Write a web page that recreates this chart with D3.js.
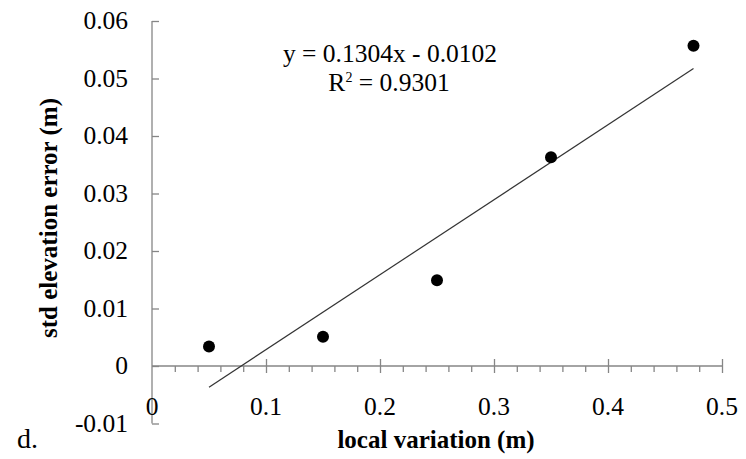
<!DOCTYPE html>
<html><head><meta charset="utf-8">
<script src="https://cdn.jsdelivr.net/npm/d3@7"></script>
<style>body{margin:0;background:#fff}svg{display:block}</style>
</head><body>
<script>
const xValues = [0.05, 0.15, 0.25, 0.35, 0.475];
const yValues = [0.0034, 0.0051, 0.0149, 0.0363, 0.0557];
const slope = 0.1304, intercept = -0.0102;
const equationLabel = "y = 0.1304x - 0.0102";
const r2Label = "0.9301";
const xTicks = [0, 0.1, 0.2, 0.3, 0.4, 0.5];
const yTicks = [-0.01, 0, 0.01, 0.02, 0.03, 0.04, 0.05, 0.06];
const xTitle = "local variation (m)";
const yTitle = "std elevation error (m)";
const panelLabel = "d.";

const FONT = "'Liberation Serif', 'DejaVu Serif', serif";
const W = 746, H = 459;
const svg = d3.select("body").append("svg").attr("width", W).attr("height", H)
  .attr("font-family", FONT);
const x = d3.scaleLinear().domain([0, 0.5]).range([152, 722]);
const y = d3.scaleLinear().domain([-0.01, 0.06]).range([423.5, 21]);
const axisColor = "#868686";

// y axis
const yAxis = svg.append("g").attr("transform", `translate(${x(0)},0)`)
  .call(d3.axisRight(y).tickValues(yTicks).tickSize(7).tickFormat(""));
yAxis.select(".domain").attr("stroke", axisColor).attr("stroke-width", 1.3).attr("d", `M0,${y(-0.01)}V${y(0.06)}`);
yAxis.selectAll(".tick line").attr("stroke", axisColor).attr("stroke-width", 1.3);
svg.append("g").selectAll("text").data(yTicks).join("text")
  .attr("x", 128).attr("y", d => y(d)).attr("dy", "0.33em")
  .attr("text-anchor", "end").attr("font-size", 25.5).attr("fill", "#000")
  .attr("font-family", FONT)
  .text(d => d === 0 ? "0" : d3.format(".2f")(d).replace("−", "-"));

// x axis at y=0
const y0 = y(0);
const minorTicks = d3.range(0, 0.5001, 0.02).filter(v => Math.abs(Math.round(v * 10) - v * 10) > 1e-6);
const xAxisMinor = svg.append("g").attr("transform", `translate(0,${y0})`)
  .call(d3.axisBottom(x).tickValues(minorTicks).tickSize(6).tickFormat(""));
xAxisMinor.select(".domain").attr("stroke", axisColor).attr("stroke-width", 1.3).attr("d", `M${x(0)},0H${x(0.5)}`);
xAxisMinor.selectAll(".tick line").attr("stroke", axisColor).attr("stroke-width", 1.3);
const xAxisMajor = svg.append("g").attr("transform", `translate(0,${y0 - 7})`)
  .call(d3.axisBottom(x).tickValues(xTicks.filter(d => d > 0)).tickSize(14).tickFormat(""));
xAxisMajor.select(".domain").remove();
xAxisMajor.selectAll(".tick line").attr("stroke", axisColor).attr("stroke-width", 1.3);
svg.append("g").selectAll("text").data(xTicks).join("text")
  .attr("x", d => x(d)).attr("y", 415)
  .attr("text-anchor", "middle").attr("font-size", 25.5).attr("fill", "#000")
  .attr("font-family", FONT)
  .text(d => d === 0 ? "0" : d3.format(".1f")(d));

// trendline
svg.append("line")
  .attr("x1", x(d3.min(xValues))).attr("y1", y(slope * d3.min(xValues) + intercept))
  .attr("x2", x(d3.max(xValues))).attr("y2", y(slope * d3.max(xValues) + intercept))
  .attr("stroke", "#333").attr("stroke-width", 1.2);

// points
svg.append("g").selectAll("circle").data(xValues).join("circle")
  .attr("cx", d => x(d)).attr("cy", (d, i) => y(yValues[i])).attr("r", 6).attr("fill", "#000");

// equation
svg.append("text").attr("x", 390).attr("y", 62).attr("text-anchor", "middle")
  .attr("font-family", FONT).attr("font-size", 25.5).text(equationLabel);
const r2 = svg.append("text").attr("x", 389).attr("y", 91).attr("text-anchor", "middle")
  .attr("font-family", FONT).attr("font-size", 25.5);
r2.append("tspan").text("R");
r2.append("tspan").attr("font-size", 14).attr("dy", -9).text("2");
r2.append("tspan").attr("dy", 9).text(" = " + r2Label);

// titles
svg.append("text").attr("x", 436).attr("y", 448).attr("text-anchor", "middle")
  .attr("font-family", FONT).attr("font-size", 25).attr("font-weight", "bold").text(xTitle);
svg.append("text").attr("transform", "translate(57,218) rotate(-90)").attr("text-anchor", "middle")
  .attr("font-family", FONT).attr("font-size", 25).attr("font-weight", "bold").text(yTitle);
svg.append("text").attr("x", 17).attr("y", 448).attr("font-family", FONT).attr("font-size", 28).text(panelLabel);
</script>
</body></html>
